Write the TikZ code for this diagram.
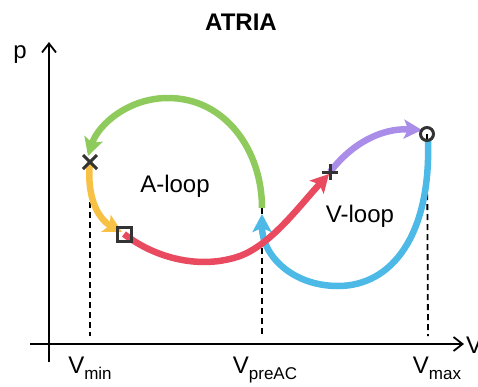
\documentclass[tikz,border=0pt]{standalone}
\usepackage{fontspec}
\setmainfont{Liberation Sans}
\usetikzlibrary{arrows.meta,shapes.misc,calc}
\definecolor{cgreen}{HTML}{8FCB5C}
\definecolor{cyellow}{HTML}{F7C145}
\definecolor{cred}{HTML}{E94A5F}
\definecolor{cpurple}{HTML}{A98DE8}
\definecolor{cblue}{HTML}{4DB9E7}
\definecolor{cmark}{HTML}{333333}
\tikzset{
  axis/.style={line width=1.8pt,-{Straight Barb[length=9pt,width=14pt,line width=1.8pt]}},
  guide/.style={line width=1.8pt,dash pattern=on 6pt off 4pt},
  loopline/.style={line width=6.5pt,-{Stealth[length=18pt,width=19pt,inset=4pt]}},
  lbl/.style={font=\fontsize{24}{26}\selectfont,inner sep=0pt},
  mk/.style={draw=cmark,line width=3pt,inner sep=0pt},
}
\newcommand{\sub}[1]{\raisebox{-6pt}{\fontsize{17}{17}\selectfont #1}}
\begin{document}
\begin{tikzpicture}[x=1pt,y=-1pt]
\useasboundingbox (0,0) rectangle (478,386);
% axes
\coordinate (o1) at (49,362);
\coordinate (ytip) at (49,42);
\coordinate (o2) at (30,344);
\coordinate (xtip) at (464,344);
\draw[axis] (o1) -- (ytip);
\draw[axis] (o2) -- (xtip);
\node[lbl,anchor=base] (plab) at (20,58) {p};
\node[lbl,anchor=base west] (vlab) at (466,353) {V};
\node[font=\bfseries\fontsize{24}{26}\selectfont] (title) at (241,22) {ATRIA};
% key points
\coordinate (Pmin) at (90,162);
\coordinate (Psq) at (124,234);
\coordinate (Pplus) at (330,172);
\coordinate (Pmax) at (427,134);
\coordinate (Ppre) at (262,208);
\coordinate (Bmin) at (90,336);
\coordinate (Bpre) at (262,336);
\coordinate (Bmax) at (428,336);
% dashed guides
\draw[guide] (Pmin) -- (Bmin);
\draw[guide] (Ppre) -- (Bpre);
\draw[guide] (Pmax) -- (Bmax);
% curves
\draw[loopline,cblue] (428,140) .. controls (431,235) and (392,286) .. (338,286)
   .. controls (292,286) and (262,255) .. (262,214);
\draw[loopline,cred] (Psq) .. controls (155,258) and (200,270) .. (240,256)
   .. controls (272,244) and (300,205) .. (329,174);
\draw[loopline,cgreen] (Ppre) .. controls (262,150) and (225,98) .. (168,98)
   .. controls (128,98) and (98,125) .. (88,156);
\draw[loopline,cyellow] (Pmin) .. controls (86,200) and (100,220) .. (122,232);
\draw[loopline,cpurple] (Pplus) .. controls (352,143) and (382,128) .. (422,130);
% markers
\node[mk,cross out,minimum size=11pt] (mx) at (Pmin) {};
\node[mk,rectangle,minimum size=14pt] (msq) at (Psq) {};
\draw[mk] ($(Pplus)+(-8,0)$) -- ($(Pplus)+(8,0)$) ($(Pplus)+(0,-8)$) -- ($(Pplus)+(0,8)$);
\node[mk,circle,minimum size=13pt] (mc) at (Pmax) {};
% texts
\node[lbl] (aloop) at (175,186) {A-loop};
\node[lbl] (vloop) at (360,216) {V-loop};
\node[lbl,anchor=base] (tmin) at (90,373) {V\sub{min}};
\node[lbl,anchor=base] (tpre) at (265,373) {V\sub{preAC}};
\node[lbl,anchor=base] (tmax) at (437,373) {V\sub{max}};
\end{tikzpicture}
\end{document}
